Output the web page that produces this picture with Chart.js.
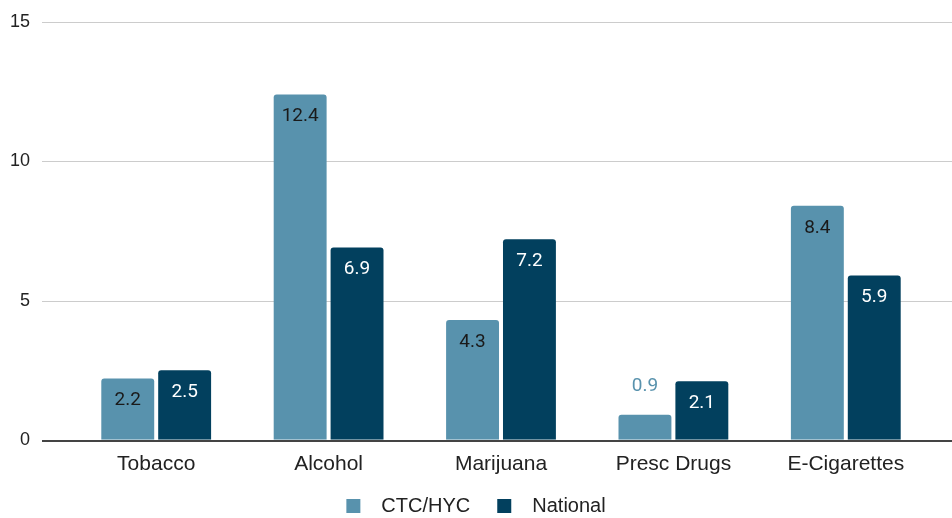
<!DOCTYPE html>
<html>
<head>
<meta charset="utf-8">
<script src="https://cdn.jsdelivr.net/npm/chart.js@4"></script>
<style>
  html, body { margin: 0; padding: 0; background: #ffffff; }
  #wrap { width: 952px; height: 518px; position: relative; }
</style>
</head>
<body>
<div id="wrap"><canvas id="c" width="952" height="518"></canvas></div>
<script>
const categories = ["Tobacco", "Alcohol", "Marijuana", "Presc Drugs", "E-Cigarettes"];
const ctcHyc = [2.2, 12.4, 4.3, 0.9, 8.4];
const national = [2.5, 6.9, 7.2, 2.1, 5.9];
const yTicks = [0, 5, 10, 15];
const seriesNames = ["CTC/HYC", "National"];

const LIGHT = "#5892ad";
const DARK = "#02405e";
const AXIS_FONT = "'Liberation Sans', Arial, sans-serif";
const LABEL_FONT = "Roboto, 'Liberation Sans', sans-serif";

const gridPlugin = {
  id: "fullGrid",
  beforeDatasetsDraw(chart) {
    const ctx = chart.ctx, y = chart.scales.y;
    ctx.save();
    ctx.strokeStyle = "#cccccc";
    ctx.lineWidth = 1;
    yTicks.forEach(v => {
      if (v === 0) return;
      const py = Math.round(y.getPixelForValue(v)) + 0.5;
      ctx.beginPath(); ctx.moveTo(42, py); ctx.lineTo(chart.width, py); ctx.stroke();
    });
    ctx.restore();
  },
  afterDatasetsDraw(chart) {
    const ctx = chart.ctx, y = chart.scales.y;
    ctx.save();
    // zero axis line
    const py = Math.round(y.getPixelForValue(0)) + 1;
    ctx.strokeStyle = "#444444";
    ctx.lineWidth = 2;
    ctx.beginPath(); ctx.moveTo(42, py); ctx.lineTo(chart.width, py); ctx.stroke();
    // data labels
    ctx.font = "19px " + LABEL_FONT;
    ctx.textAlign = "center";
    ctx.textBaseline = "middle";
    chart.data.datasets.forEach((ds, di) => {
      const meta = chart.getDatasetMeta(di);
      meta.data.forEach((bar, i) => {
        const v = ds.data[i];
        const h = bar.base - bar.y;
        let ty, col;
        if (h < 40) {
          ty = bar.y - 28; col = ds.backgroundColor;
        } else {
          ty = bar.y + 22; col = di === 0 ? "#1a1a1a" : "#ffffff";
        }
        ctx.fillStyle = col;
        ctx.fillText(v.toFixed(1), bar.x, ty);
      });
    });
    ctx.restore();
  },
  afterDraw(chart) {
    // legend
    const ctx = chart.ctx;
    ctx.save();
    ctx.font = "20px " + AXIS_FONT;
    ctx.textBaseline = "middle";
    ctx.textAlign = "left";
    const box = 14, gap = 21, spacing = 27;
    const widths = chart.data.datasets.map(ds => box + gap + ctx.measureText(ds.label).width);
    const total = widths.reduce((a, b) => a + b, 0) + spacing * (widths.length - 1);
    let x = chart.width / 2 - total / 2;
    const cy = 506;
    chart.data.datasets.forEach((ds, i) => {
      ctx.fillStyle = ds.backgroundColor;
      ctx.fillRect(x, cy - box / 2, box, box);
      ctx.fillStyle = "#222222";
      ctx.fillText(ds.label, x + box + gap, cy);
      x += widths[i] + spacing;
    });
    ctx.restore();
  }
};

new Chart(document.getElementById("c"), {
  type: "bar",
  data: {
    labels: categories,
    datasets: [
      { label: seriesNames[0], data: ctcHyc, backgroundColor: LIGHT,
        borderRadius: { topLeft: 3, topRight: 3 }, borderSkipped: "bottom" },
      { label: seriesNames[1], data: national, backgroundColor: DARK,
        borderRadius: { topLeft: 3, topRight: 3 }, borderSkipped: "bottom" }
    ]
  },
  options: {
    responsive: false,
    animation: false,
    devicePixelRatio: 1,
    layout: { padding: { top: 22, right: 20, bottom: 29, left: 0 } },
    datasets: { bar: { categoryPercentage: 0.66, barPercentage: 0.93 } },
    plugins: { legend: { display: false }, tooltip: { enabled: false } },
    scales: {
      x: {
        grid: { display: false, drawTicks: false },
        border: { display: false },
        ticks: { color: "#222222", font: { family: AXIS_FONT, size: 21 }, padding: 12, maxRotation: 0 }
      },
      y: {
        min: 0, max: 15,
        afterFit(scale) { scale.width = 70; },
        afterBuildTicks(scale) { scale.ticks = yTicks.map(v => ({ value: v })); },
        grid: { display: false, drawTicks: true, tickLength: 40 },
        border: { display: false },
        ticks: { color: "#222222", font: { family: AXIS_FONT, size: 18 }, padding: 0 }
      }
    }
  },
  plugins: [gridPlugin]
});
</script>
</body>
</html>
